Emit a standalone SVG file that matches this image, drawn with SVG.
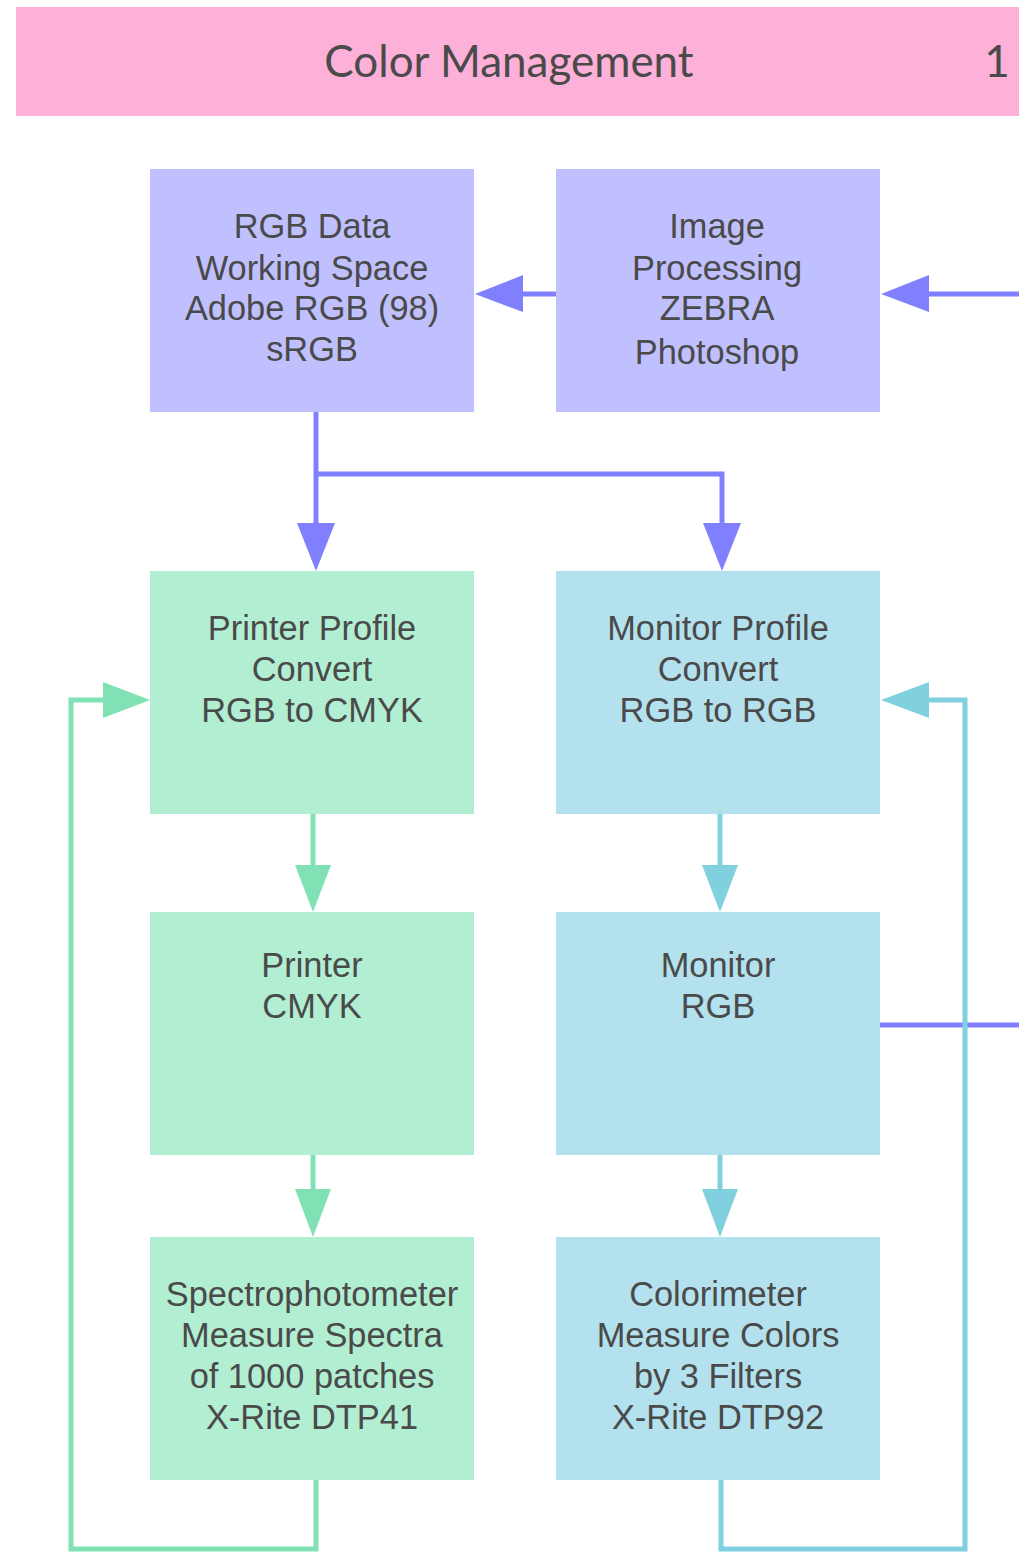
<svg xmlns="http://www.w3.org/2000/svg" width="1019" height="1552" viewBox="0 0 1019 1552">
<style>
.t{font-family:"Liberation Sans",Arial,sans-serif;font-size:34.4px;fill:#4a4a4a;text-anchor:middle}
.title{font-family:Lato,"Open Sans",sans-serif;font-size:44px;fill:#4a4a4a}
.p{fill:#c0c0ff}.g{fill:#b2eed2}.b{fill:#b3e1ee}
.cp{stroke:#8080ff;stroke-width:5;fill:none}
.cg{stroke:#80e2b4;stroke-width:5;fill:none}
.cb{stroke:#80d0e0;stroke-width:5;fill:none}
</style>
<rect x="0" y="0" width="1019" height="1552" fill="#ffffff"/>
<g id="title">
<rect x="16" y="7" width="1003" height="109" fill="#fdb0d8"/>
<text class="title" x="509" y="77" text-anchor="middle">Color Management</text>
<text class="title" x="997" y="77" text-anchor="middle">1</text>
</g>
<g id="connectors">
<line class="cp" x1="556" y1="294" x2="520" y2="294"/>
<polygon points="475,294 523,275 523,312" fill="#8080ff"/>
<line class="cp" x1="1019" y1="294" x2="926" y2="294"/>
<polygon points="881,294 929,275 929,312" fill="#8080ff"/>
<polyline class="cp" points="316,412 316,526"/>
<polyline class="cp" points="316,474 722,474 722,526"/>
<polygon points="316,571 297,523 335,523" fill="#8080ff"/>
<polygon points="722,571 703,523 741,523" fill="#8080ff"/>
<line class="cp" x1="880" y1="1025" x2="1019" y2="1025"/>
<line class="cg" x1="313" y1="814" x2="313" y2="868"/>
<polygon points="313,912 295,865 331,865" fill="#80e2b4"/>
<line class="cg" x1="313" y1="1155" x2="313" y2="1192"/>
<polygon points="313,1237 295,1189 331,1189" fill="#80e2b4"/>
<polyline class="cg" points="316,1480 316,1549 71,1549 71,700 106,700"/>
<polygon points="150,700 103,682 103,718" fill="#80e2b4"/>
<line class="cb" x1="720" y1="814" x2="720" y2="868"/>
<polygon points="720,912 702,865 738,865" fill="#80d0e0"/>
<line class="cb" x1="720" y1="1155" x2="720" y2="1192"/>
<polygon points="720,1237 702,1189 738,1189" fill="#80d0e0"/>
<polyline class="cb" points="721,1480 721,1549 965,1549 965,700 926,700"/>
<polygon points="881,700 929,682 929,718" fill="#80d0e0"/>
</g>
<g id="rgb-data">
<rect class="p" x="150" y="169" width="324" height="243"/>
<text class="t" x="312" y="238">RGB Data</text>
<text class="t" x="312" y="280">Working Space</text>
<text class="t" x="312" y="320">Adobe RGB (98)</text>
<text class="t" x="312" y="361">sRGB</text>
</g>
<g id="image-processing">
<rect class="p" x="556" y="169" width="324" height="243"/>
<text class="t" x="717" y="238">Image</text>
<text class="t" x="717" y="280">Processing</text>
<text class="t" x="717" y="320">ZEBRA</text>
<text class="t" x="717" y="364">Photoshop</text>
</g>
<g id="printer-profile">
<rect class="g" x="150" y="571" width="324" height="243"/>
<text class="t" x="312" y="640">Printer Profile</text>
<text class="t" x="312" y="681">Convert</text>
<text class="t" x="312" y="722">RGB to CMYK</text>
</g>
<g id="monitor-profile">
<rect class="b" x="556" y="571" width="324" height="243"/>
<text class="t" x="718" y="640">Monitor Profile</text>
<text class="t" x="718" y="681">Convert</text>
<text class="t" x="718" y="722">RGB to RGB</text>
</g>
<g id="printer">
<rect class="g" x="150" y="912" width="324" height="243"/>
<text class="t" x="312" y="977">Printer</text>
<text class="t" x="312" y="1018">CMYK</text>
</g>
<g id="monitor">
<rect class="b" x="556" y="912" width="324" height="243"/>
<text class="t" x="718" y="977">Monitor</text>
<text class="t" x="718" y="1018">RGB</text>
</g>
<g id="spectrophotometer">
<rect class="g" x="150" y="1237" width="324" height="243"/>
<text class="t" x="312" y="1306">Spectrophotometer</text>
<text class="t" x="312" y="1347">Measure Spectra</text>
<text class="t" x="312" y="1388">of 1000 patches</text>
<text class="t" x="312" y="1429">X-Rite DTP41</text>
</g>
<g id="colorimeter">
<rect class="b" x="556" y="1237" width="324" height="243"/>
<text class="t" x="718" y="1306">Colorimeter</text>
<text class="t" x="718" y="1347">Measure Colors</text>
<text class="t" x="718" y="1388">by 3 Filters</text>
<text class="t" x="718" y="1429">X-Rite DTP92</text>
</g>
</svg>
